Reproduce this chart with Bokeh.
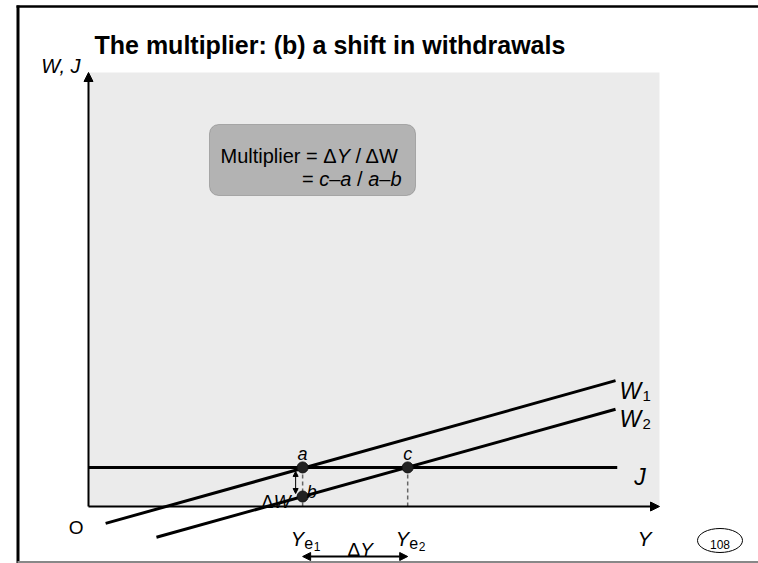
from bokeh.plotting import figure
from bokeh.models import Range1d, Arrow, NormalHead, BoxAnnotation
from bokeh.core.properties import value
from bokeh.embed import file_html
from bokeh.resources import INLINE

FONT = "Liberation Sans"
TITLE_FONT = "Liberation Sans"

# ---- data (diagram units: Y along x, W/J along y, both 0..100) ----
AXIS_MAX = [100, 100]
J_LEVEL = 9.0
J_X = [0.0, 92.6]
W1_X = [3.0, 92.3]
W1_Y = [-3.9, 29.0]
W2_X = [11.9, 92.3]
W2_Y = [-7.1, 22.4]
YE = [37.5, 55.9]              # Ye1, Ye2
PT_NAMES = ["a", "b", "c"]
PT_X = [37.5, 37.5, 55.9]
PT_Y = [9.0, 2.3, 9.0]
TITLE = "The multiplier: (b) a shift in withdrawals"

# ---- layout ----
W, H = 758, 563
SX, SY = 5.71, 4.34            # px per unit
OX, OY = 88, 506               # origin position in px

def dx(px):
    return (px - OX) / SX

def dy(py):
    return (OY - py) / SY

p = figure(width=W, height=H, x_range=Range1d(-OX / SX, (W - OX) / SX),
           y_range=Range1d((OY - H) / SY, OY / SY),
           toolbar_location=None, output_backend="svg",
           x_axis_location=None, y_axis_location=None, min_border=0)
p.grid.visible = False
p.outline_line_color = None
p.background_fill_color = "white"
p.border_fill_color = "white"

# grey plotting area (underlay)
p.add_layout(BoxAnnotation(left=0, right=AXIS_MAX[0], bottom=0, top=AXIS_MAX[1],
                           fill_color="#ebebeb", fill_alpha=1, line_color=None,
                           level="underlay"))
# multiplier box (underlay, above grey)
p.add_layout(BoxAnnotation(left=dx(209), right=dx(415), top=dy(124), bottom=dy(195),
                           fill_color="#b3b3b3", fill_alpha=1, line_color="#444444",
                           line_width=1, border_radius=9, level="underlay"))

# slide frame
p.line(x=[dx(17.5), dx(17.5)], y=[dy(5), dy(563)], line_color="black", line_width=3)
p.line(x=[dx(16), dx(760)], y=[dy(6), dy(6)], line_color="black", line_width=2.5)
p.line(x=[dx(17), dx(760)], y=[dy(561.5), dy(561.5)], line_color="#888888", line_width=2)

# axes with arrows
p.add_layout(Arrow(end=NormalHead(size=9, fill_color="black", line_color="black"),
                   x_start=0, y_start=0, x_end=0, y_end=AXIS_MAX[1],
                   line_width=2, line_color="black"))
p.add_layout(Arrow(end=NormalHead(size=9, fill_color="black", line_color="black"),
                   x_start=0, y_start=0, x_end=AXIS_MAX[0], y_end=0,
                   line_width=2, line_color="black"))

# dashed drop lines
for xv in YE:
    p.line(x=[xv, xv], y=[J_LEVEL, 0], line_color="#666666", line_width=1.5, line_dash="4 3")

# J, W1, W2
p.line(x=J_X, y=[J_LEVEL, J_LEVEL], line_color="black", line_width=3)
p.line(x=W1_X, y=W1_Y, line_color="black", line_width=3)
p.line(x=W2_X, y=W2_Y, line_color="black", line_width=3)

# points
p.scatter(x=PT_X, y=PT_Y, size=11, fill_color="#222222", line_color="#111111")

# ΔW double arrow
p.add_layout(Arrow(start=NormalHead(size=5, fill_color="black"), end=NormalHead(size=5, fill_color="black"),
                   x_start=PT_X[0] - 7 / SX, y_start=PT_Y[0] - 4 / SY,
                   x_end=PT_X[1] - 7 / SX, y_end=PT_Y[1] + 3 / SY,
                   line_width=1, line_color="black"))
# ΔY double arrow
p.add_layout(Arrow(start=NormalHead(size=8, fill_color="black"), end=NormalHead(size=8, fill_color="black"),
                   x_start=YE[0], y_start=-50 / SY, x_end=YE[1], y_end=-50 / SY,
                   line_width=2, line_color="black"))

# ---- text helpers ----
CW = {' ': 278, '=': 584, 'Δ': 668, 'Y': 667, '/': 278, 'W': 944, 'c': 500, '–': 556,
      'a': 556, 'b': 556, 'M': 833, 'u': 556, 'l': 222, 't': 278, 'i': 222, 'p': 556,
      'e': 556, 'r': 333}

def txt(x, y, s, size, style="normal", xo=0, yo=0, align="left", color="black", font=FONT):
    p.text(x=[x], y=[y], text=[s], x_offset=xo, y_offset=yo, text_align=align,
           text_baseline="alphabetic", text_font=value(font),
           text_font_size=f"{size}px", text_font_style=style, text_color=color)

def rich(x, y, segs, size, align="left", xo=0, yo=0):
    widths = [sum(CW.get(ch, 556) for ch in s) * size / 1000 for s, _ in segs]
    total = sum(widths)
    cur = xo + {"left": 0, "center": -total / 2, "right": -total}[align]
    for (s, it), w in zip(segs, widths):
        lead = (len(s) - len(s.lstrip(' '))) * CW[' '] * size / 1000
        txt(x, y, s.strip(' '), size, "italic" if it else "normal", xo=cur + lead, yo=yo)
        cur += w

# title and axis labels
txt(0, AXIS_MAX[1], TITLE, 25, "bold", xo=6, yo=-28, font=TITLE_FONT)
txt(0, AXIS_MAX[1], "W, J", 20, "italic", xo=-8, yo=-7, align="right")
txt(AXIS_MAX[0], 0, "Y", 21, "italic", xo=-8, yo=32, align="right")
txt(0, 0, "O", 19, "normal", xo=-5, yo=21, align="right")

# line labels
txt(W1_X[1], W1_Y[1], "W", 23, "italic", xo=4, yo=10)
txt(W1_X[1], W1_Y[1], "1", 15, "normal", xo=27, yo=15)
txt(W2_X[1], W2_Y[1], "W", 23, "italic", xo=4, yo=10)
txt(W2_X[1], W2_Y[1], "2", 15, "normal", xo=27, yo=15)
txt(J_X[1], J_LEVEL, "J", 23, "italic", xo=17, yo=10)

# point labels
txt(PT_X[0], PT_Y[0], PT_NAMES[0], 18, "italic", yo=-13, align="center")
txt(PT_X[2], PT_Y[2], PT_NAMES[2], 18, "italic", yo=-13, align="center")
txt(PT_X[1], PT_Y[1], PT_NAMES[1], 18, "italic", xo=4, yo=-5)
rich(PT_X[1], PT_Y[1], [("Δ", False), ("W", True)], 18, align="right", xo=-12, yo=5)

# Ye labels
for i, xv in enumerate(YE):
    txt(xv, 0, "Y", 20, "italic", xo=1.5, yo=32, align="right")
    txt(xv, 0, "e", 16, "normal", xo=1.5, yo=36)
    txt(xv, 0, str(i + 1), 12, "normal", xo=11, yo=40)
rich((YE[0] + YE[1]) / 2, 0, [("Δ", False), ("Y", True)], 19, align="center", xo=5, yo=43)

# box text
rich(dx(220), dy(155), [("Multiplier = Δ", False), ("Y", True), (" / ΔW", False)], 20)
rich(dx(401), dy(178), [("= ", False), ("c", True), ("–", False), ("a", True), (" / ", False),
                        ("a", True), ("–", False), ("b", True)], 20, align="right")

# page number
p.ellipse(x=[AXIS_MAX[0] + 60.5 / SX], y=[-34 / SY], width=45, height=24,
          width_units="screen", height_units="screen", fill_color=None,
          line_color="black", line_width=1)
txt(AXIS_MAX[0] + 60.5 / SX, -34 / SY, "108", 12, "normal", yo=4, align="center")

open("out.html", "w").write(file_html(p, INLINE))
